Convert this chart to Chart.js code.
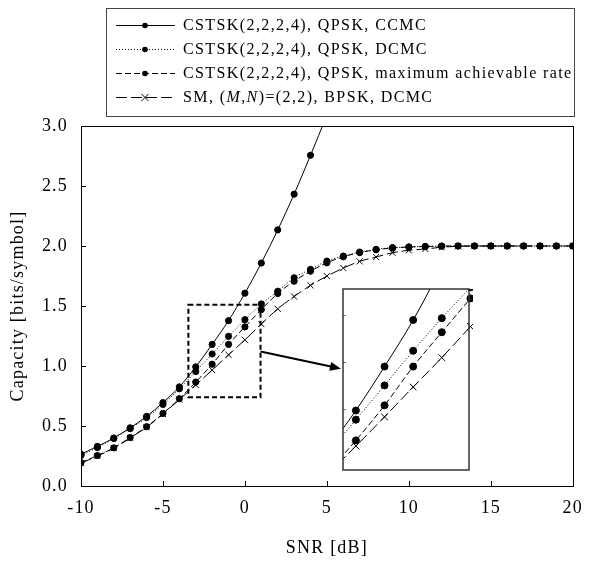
<!DOCTYPE html>
<html>
<head>
<meta charset="utf-8">
<script src="https://cdn.jsdelivr.net/npm/chart.js@4.4.1/dist/chart.umd.min.js"></script>
<style>
  body { margin: 0; background: #fff; }
  #wrap { position: relative; width: 594px; height: 562px; }
  #insetChart { position: absolute; }
</style>
</head>
<body>
<div id="wrap">
  <canvas id="capacityChart" width="594" height="562"></canvas>
  <canvas id="insetChart"></canvas>
</div>
<script>
// SNR axis (dB) and capacity values
const snrDb = [-10, -9, -8, -7, -6, -5, -4, -3, -2, -1, 0, 1, 2, 3, 4, 5, 6, 7, 8, 9, 10, 11, 12, 13, 14, 15, 16, 17, 18, 19, 20];
const ccmc = [0.265, 0.33, 0.40, 0.485, 0.58, 0.695, 0.826, 0.993, 1.18, 1.378, 1.607, 1.858, 2.134, 2.432, 2.756, 3.09,
  null, null, null, null, null, null, null, null, null, null, null, null, null, null, null];
const dcmc = [0.255, 0.32, 0.395, 0.478, 0.57, 0.68, 0.81, 0.954, 1.10, 1.247, 1.386, 1.517, 1.623, 1.735, 1.805, 1.874,
  1.916, 1.95, 1.972, 1.986, 1.992, 1.996, 1.999, 2.0, 2.0, 2.0, 2.0, 2.0, 2.0, 2.0, 2.0];
const maxRate = [0.195, 0.254, 0.318, 0.404, 0.494, 0.605, 0.728, 0.866, 1.015, 1.18, 1.326, 1.47, 1.604, 1.707, 1.79, 1.86,
  1.91, 1.945, 1.968, 1.984, 1.991, 1.996, 1.999, 2.0, 2.0, 2.0, 2.0, 2.0, 2.0, 2.0, 2.0];
const smDcmc = [0.19, 0.25, 0.315, 0.40, 0.49, 0.60, 0.72, 0.842, 0.966, 1.093, 1.218, 1.35, 1.476, 1.579, 1.672, 1.749,
  1.816, 1.872, 1.908, 1.944, 1.964, 1.975, 1.99, 1.997, 2.0, 2.0, 2.0, 2.0, 2.0, 2.0, 2.0];

const seriesLabels = [
  'CSTSK(2,2,2,4), QPSK, CCMC',
  'CSTSK(2,2,2,4), QPSK, DCMC',
  'CSTSK(2,2,2,4), QPSK, maximum achievable rate',
  'SM, (M,N)=(2,2), BPSK, DCMC'
];
const seriesValues = [ccmc, dcmc, maxRate, smDcmc];

// zoomed window shown in the inset
const zoomX = [-3.45, 0.95];
const zoomY = [0.74, 1.51];
const insetYTicks = [1.0, 1.2, 1.4];

// layout / style stuff
const seriesStyles = [
  { dash: [], marker: 'circle' },
  { dash: [1, 2], marker: 'circle' },
  { dash: [6, 3], marker: 'circle' },
  { dash: [11, 4], marker: 'crossRot' }
];
const legendBox = { left: 106, top: 8, width: 468, height: 108, firstRow: 17, rowGap: 24 };
const insetBox = { left: 343, top: 289, width: 126, height: 181 };
const insetPad = 6;
const arrowFromY = 1.12;
const serif = '"Liberation Serif", "Times New Roman", serif';

Chart.defaults.font.family = serif;
Chart.defaults.color = '#000';

function makeDatasets(radius, keepX) {
  return seriesValues.map((values, i) => {
    const pts = [];
    snrDb.forEach((x, k) => {
      if (values[k] === null) return;
      if (keepX && !keepX(x)) return;
      pts.push({ x: x, y: values[k] });
    });
    const st = seriesStyles[i];
    return {
      label: seriesLabels[i],
      data: pts,
      borderColor: '#000',
      backgroundColor: '#000',
      borderWidth: 1,
      borderDash: st.dash,
      cubicInterpolationMode: 'monotone',
      pointStyle: st.marker,
      pointRadius: st.marker === 'circle' ? radius : radius + 1.2,
      pointBorderWidth: 1,
      pointBorderColor: '#000',
      pointBackgroundColor: '#000'
    };
  });
}

function drawMarker(ctx, style, x, y, r) {
  ctx.beginPath();
  if (style === 'circle') {
    ctx.arc(x, y, r, 0, Math.PI * 2);
    ctx.fill();
  } else {
    ctx.moveTo(x - r, y - r); ctx.lineTo(x + r, y + r);
    ctx.moveTo(x + r, y - r); ctx.lineTo(x - r, y + r);
    ctx.stroke();
  }
}

// label text with italic M and N
function drawLabel(ctx, text, x, y) {
  const parts = text.split(/\b([MN])\b/);
  parts.forEach((p, k) => {
    ctx.font = (k % 2 ? 'italic ' : '') + '16px ' + serif;
    ctx.fillText(p, x, y);
    x += ctx.measureText(p).width;
  });
}

function drawLegend(chart) {
  const ctx = chart.ctx;
  const b = legendBox;
  ctx.save();
  ctx.fillStyle = '#fff';
  ctx.fillRect(b.left, b.top, b.width, b.height);
  ctx.strokeStyle = '#444';
  ctx.lineWidth = 1;
  ctx.strokeRect(b.left + 0.5, b.top + 0.5, b.width, b.height);
  ctx.letterSpacing = '1.4px';
  ctx.textBaseline = 'middle';
  ctx.fillStyle = '#000';
  ctx.strokeStyle = '#000';
  chart.data.datasets.forEach((ds, i) => {
    const yy = b.top + b.firstRow + i * b.rowGap + 0.5;
    ctx.setLineDash(ds.borderDash);
    ctx.beginPath();
    ctx.moveTo(b.left + 10, yy);
    ctx.lineTo(b.left + 69, yy);
    ctx.stroke();
    ctx.setLineDash([]);
    drawMarker(ctx, ds.pointStyle, b.left + 39, yy, ds.pointStyle === 'circle' ? 2.8 : 3.5);
    drawLabel(ctx, ds.label, b.left + 77, yy);
  });
  ctx.restore();
}

const spacingPlugin = {
  id: 'spacing',
  beforeUpdate(chart) { chart.ctx.letterSpacing = '1.2px'; },
  beforeDraw(chart) { chart.ctx.letterSpacing = '1.2px'; }
};

const framePlugin = {
  id: 'frame',
  afterDraw(chart) {
    const { ctx, chartArea: a, scales: { x, y } } = chart;
    ctx.save();
    ctx.strokeStyle = '#000';
    ctx.lineWidth = 1;
    ctx.strokeRect(Math.round(a.left) + 0.5, Math.round(a.top) + 0.5, Math.round(a.right - a.left), Math.round(a.bottom - a.top));

    // inward tick marks
    ctx.beginPath();
    x.ticks.forEach(t => {
      const px = Math.round(x.getPixelForValue(t.value)) + 0.5;
      ctx.moveTo(px, a.bottom);
      ctx.lineTo(px, a.bottom - 5);
    });
    y.ticks.forEach(t => {
      const py = Math.round(y.getPixelForValue(t.value)) + 0.5;
      ctx.moveTo(a.left, py);
      ctx.lineTo(a.left + 5, py);
    });
    ctx.stroke();

    // dashed zoom window
    const rx0 = x.getPixelForValue(zoomX[0]), rx1 = x.getPixelForValue(zoomX[1]);
    const ry0 = y.getPixelForValue(zoomY[1]), ry1 = y.getPixelForValue(zoomY[0]);
    ctx.lineWidth = 2;
    ctx.setLineDash([5, 3]);
    ctx.strokeRect(rx0, ry0, rx1 - rx0, ry1 - ry0);
    ctx.setLineDash([]);

    // arrow to the inset
    const x0 = rx1, y0 = y.getPixelForValue(arrowFromY);
    const x1 = insetBox.left - 2, y1 = insetBox.top + insetBox.height * 0.44;
    const ang = Math.atan2(y1 - y0, x1 - x0);
    ctx.beginPath();
    ctx.moveTo(x0, y0);
    ctx.lineTo(x1 - 8 * Math.cos(ang), y1 - 8 * Math.sin(ang));
    ctx.stroke();
    ctx.beginPath();
    ctx.moveTo(x1, y1);
    ctx.lineTo(x1 - 11 * Math.cos(ang) + 4.5 * Math.sin(ang), y1 - 11 * Math.sin(ang) - 4.5 * Math.cos(ang));
    ctx.lineTo(x1 - 11 * Math.cos(ang) - 4.5 * Math.sin(ang), y1 - 11 * Math.sin(ang) + 4.5 * Math.cos(ang));
    ctx.closePath();
    ctx.fillStyle = '#000';
    ctx.fill();
    ctx.restore();

    drawLegend(chart);
  }
};

const tickFont = { size: 18, family: serif };
const titleFont = { size: 18, family: serif };

new Chart(document.getElementById('capacityChart'), {
  type: 'line',
  data: { datasets: makeDatasets(3.1, null) },
  options: {
    responsive: false,
    animation: false,
    layout: { padding: { top: 126, right: 12, left: 0, bottom: 0 } },
    plugins: { legend: { display: false }, tooltip: { enabled: false } },
    scales: {
      x: {
        type: 'linear',
        min: -10,
        max: 20,
        ticks: { stepSize: 5, color: '#000', font: tickFont, padding: 11, callback: v => String(v) },
        grid: { display: false, drawTicks: false },
        border: { display: false },
        title: { display: true, text: 'SNR [dB]', color: '#000', font: titleFont, padding: { top: 0, bottom: 3 } },
        afterFit: s => { s.height = 76; }
      },
      y: {
        type: 'linear',
        min: 0,
        max: 3,
        ticks: { stepSize: 0.5, color: '#000', font: tickFont, padding: 13, callback: v => v.toFixed(1) },
        grid: { display: false, drawTicks: false },
        border: { display: false },
        title: { display: true, text: 'Capacity [bits/symbol]', color: '#000', font: titleFont, padding: { top: 7, bottom: 0 } },
        afterFit: s => { s.width = 81; }
      }
    }
  },
  plugins: [spacingPlugin, framePlugin]
});

// ---- inset (zoomed view) ----
const insetCanvas = document.getElementById('insetChart');
insetCanvas.width = insetBox.width + 2 * insetPad;
insetCanvas.height = insetBox.height + 2 * insetPad;
insetCanvas.style.left = (insetBox.left - insetPad) + 'px';
insetCanvas.style.top = (insetBox.top - insetPad) + 'px';

const insetPlugin = {
  id: 'insetFrame',
  beforeDraw(chart) {
    const { ctx, chartArea: a } = chart;
    ctx.save();
    ctx.fillStyle = '#fff';
    ctx.fillRect(a.left, a.top, a.right - a.left, a.bottom - a.top);
    ctx.restore();
  },
  afterDraw(chart) {
    const { ctx, chartArea: a, scales: { y } } = chart;
    ctx.save();
    ctx.strokeStyle = '#777';
    ctx.lineWidth = 1;
    ctx.beginPath();
    insetYTicks.forEach(v => {
      const py = Math.round(y.getPixelForValue(v)) + 0.5;
      ctx.moveTo(a.left, py);
      ctx.lineTo(a.left + 3, py);
    });
    ctx.stroke();
    ctx.strokeStyle = '#333';
    ctx.lineWidth = 1.5;
    ctx.strokeRect(a.left, a.top, a.right - a.left, a.bottom - a.top);
    ctx.restore();
  }
};

const insetSets = makeDatasets(3.5, x => x >= zoomX[0] - 1 && x <= zoomX[1] + 0.5);
insetSets.forEach(ds => { ds.clip = { left: 0, top: 0, right: 4, bottom: 0 }; });

new Chart(insetCanvas, {
  type: 'line',
  data: { datasets: insetSets },
  options: {
    responsive: false,
    animation: false,
    layout: { padding: insetPad },
    plugins: { legend: { display: false }, tooltip: { enabled: false } },
    scales: {
      x: { type: 'linear', min: zoomX[0], max: zoomX[1], display: false },
      y: { type: 'linear', min: zoomY[0], max: zoomY[1], display: false }
    }
  },
  plugins: [insetPlugin]
});
</script>
</body>
</html>
